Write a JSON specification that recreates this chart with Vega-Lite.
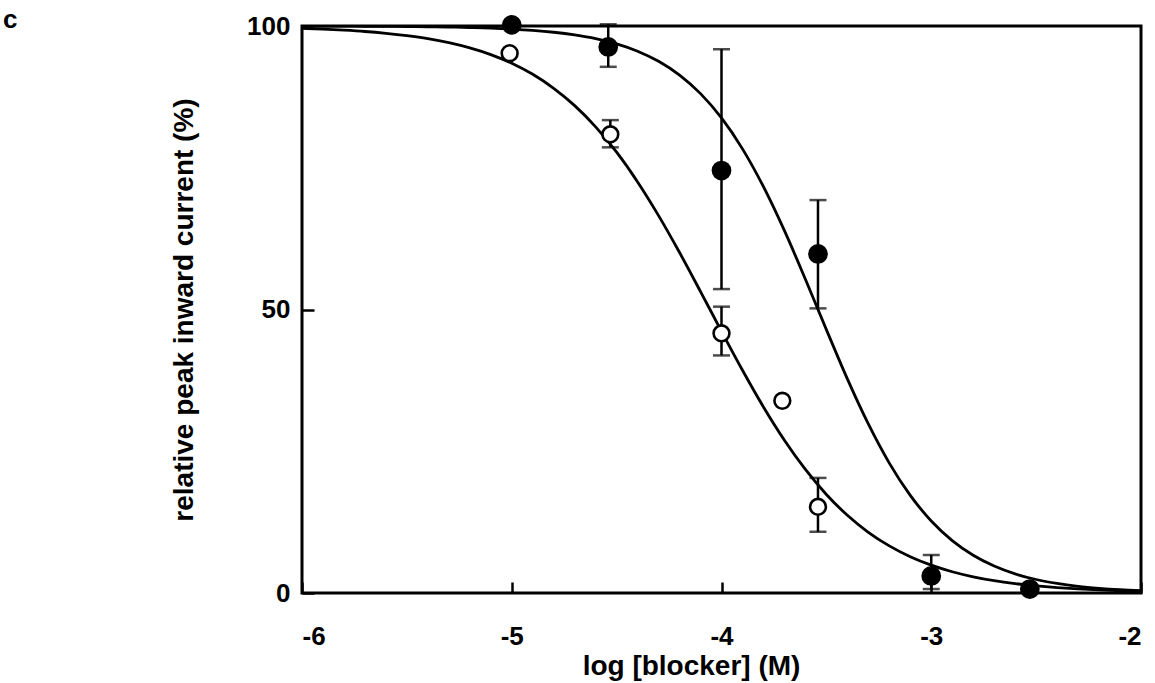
{
  "$schema": "https://vega.github.io/schema/vega-lite/v6.json",
  "width": 839,
  "height": 567,
  "autosize": {"type": "none"},
  "padding": {"left": 302, "top": 26, "right": 14, "bottom": 90},
  "background": "white",
  "title": {"text": "c", "anchor": "start", "frame": "group", "fontSize": 26, "fontWeight": "bold", "font": "Liberation Sans", "color": "black", "dx": -299, "dy": 20, "offset": 0},
  "config": {
    "view": {"stroke": "black", "strokeWidth": 3},
    "axis": {"labelFont": "Liberation Sans", "titleFont": "Liberation Sans", "labelColor": "black", "titleColor": "black", "labelFontWeight": "bold", "titleFontWeight": "bold", "grid": false, "domain": false, "tickColor": "black", "tickWidth": 2.5}
  },
  "datasets": {
    "curves": [
      {"x": -6.0, "y": 99.98, "s": "closed"}, {"x": -5.9, "y": 99.98, "s": "closed"}, {"x": -5.8, "y": 99.97, "s": "closed"}, {"x": -5.7, "y": 99.96, "s": "closed"}, {"x": -5.6, "y": 99.94, "s": "closed"}, {"x": -5.5, "y": 99.91, "s": "closed"}, {"x": -5.4, "y": 99.87, "s": "closed"}, {"x": -5.3, "y": 99.81, "s": "closed"}, {"x": -5.2, "y": 99.73, "s": "closed"}, {"x": -5.1, "y": 99.62, "s": "closed"}, {"x": -5.0, "y": 99.46, "s": "closed"}, {"x": -4.9, "y": 99.23, "s": "closed"}, {"x": -4.8, "y": 98.9, "s": "closed"}, {"x": -4.7, "y": 98.43, "s": "closed"}, {"x": -4.6, "y": 97.78, "s": "closed"}, {"x": -4.5, "y": 96.85, "s": "closed"}, {"x": -4.4, "y": 95.56, "s": "closed"}, {"x": -4.3, "y": 93.77, "s": "closed"}, {"x": -4.2, "y": 91.34, "s": "closed"}, {"x": -4.1, "y": 88.07, "s": "closed"}, {"x": -4.0, "y": 83.78, "s": "closed"}, {"x": -3.9, "y": 78.33, "s": "closed"}, {"x": -3.8, "y": 71.66, "s": "closed"}, {"x": -3.7, "y": 63.9, "s": "closed"}, {"x": -3.6, "y": 55.34, "s": "closed"}, {"x": -3.5, "y": 46.45, "s": "closed"}, {"x": -3.4, "y": 37.76, "s": "closed"}, {"x": -3.3, "y": 29.81, "s": "closed"}, {"x": -3.2, "y": 22.91, "s": "closed"}, {"x": -3.1, "y": 17.22, "s": "closed"}, {"x": -3.0, "y": 12.7, "s": "closed"}, {"x": -2.9, "y": 9.24, "s": "closed"}, {"x": -2.8, "y": 6.65, "s": "closed"}, {"x": -2.7, "y": 4.75, "s": "closed"}, {"x": -2.6, "y": 3.37, "s": "closed"}, {"x": -2.5, "y": 2.38, "s": "closed"}, {"x": -2.4, "y": 1.68, "s": "closed"}, {"x": -2.3, "y": 1.18, "s": "closed"}, {"x": -2.2, "y": 0.83, "s": "closed"}, {"x": -2.1, "y": 0.58, "s": "closed"}, {"x": -2.0, "y": 0.41, "s": "closed"},
      {"x": -6.0, "y": 99.58, "s": "open"}, {"x": -5.9, "y": 99.44, "s": "open"}, {"x": -5.8, "y": 99.26, "s": "open"}, {"x": -5.7, "y": 99.03, "s": "open"}, {"x": -5.6, "y": 98.71, "s": "open"}, {"x": -5.5, "y": 98.3, "s": "open"}, {"x": -5.4, "y": 97.77, "s": "open"}, {"x": -5.3, "y": 97.06, "s": "open"}, {"x": -5.2, "y": 96.14, "s": "open"}, {"x": -5.1, "y": 94.96, "s": "open"}, {"x": -5.0, "y": 93.43, "s": "open"}, {"x": -4.9, "y": 91.48, "s": "open"}, {"x": -4.8, "y": 89.02, "s": "open"}, {"x": -4.7, "y": 85.96, "s": "open"}, {"x": -4.6, "y": 82.22, "s": "open"}, {"x": -4.5, "y": 77.74, "s": "open"}, {"x": -4.4, "y": 72.5, "s": "open"}, {"x": -4.3, "y": 66.56, "s": "open"}, {"x": -4.2, "y": 60.05, "s": "open"}, {"x": -4.1, "y": 53.16, "s": "open"}, {"x": -4.0, "y": 46.15, "s": "open"}, {"x": -3.9, "y": 39.29, "s": "open"}, {"x": -3.8, "y": 32.82, "s": "open"}, {"x": -3.7, "y": 26.95, "s": "open"}, {"x": -3.6, "y": 21.79, "s": "open"}, {"x": -3.5, "y": 17.38, "s": "open"}, {"x": -3.4, "y": 13.71, "s": "open"}, {"x": -3.3, "y": 10.71, "s": "open"}, {"x": -3.2, "y": 8.31, "s": "open"}, {"x": -3.1, "y": 6.4, "s": "open"}, {"x": -3.0, "y": 4.91, "s": "open"}, {"x": -2.9, "y": 3.75, "s": "open"}, {"x": -2.8, "y": 2.86, "s": "open"}, {"x": -2.7, "y": 2.17, "s": "open"}, {"x": -2.6, "y": 1.65, "s": "open"}, {"x": -2.5, "y": 1.25, "s": "open"}, {"x": -2.4, "y": 0.95, "s": "open"}, {"x": -2.3, "y": 0.72, "s": "open"}, {"x": -2.2, "y": 0.54, "s": "open"}, {"x": -2.1, "y": 0.41, "s": "open"}, {"x": -2.0, "y": 0.31, "s": "open"}
    ],
    "points": [
      {"x": -5.0, "y": 100.2, "s": "closed"},
      {"x": -4.54, "y": 96.3, "lo": 92.8, "hi": 100.3, "s": "closed"},
      {"x": -4.0, "y": 74.5, "lo": 53.6, "hi": 95.9, "s": "closed"},
      {"x": -3.54, "y": 59.8, "lo": 50.2, "hi": 69.3, "s": "closed"},
      {"x": -3.0, "y": 3.0, "lo": 0.7, "hi": 6.7, "s": "closed"},
      {"x": -2.53, "y": 0.7, "s": "closed"},
      {"x": -5.01, "y": 95.2, "s": "open"},
      {"x": -4.53, "y": 80.9, "lo": 78.6, "hi": 83.4, "s": "open"},
      {"x": -4.0, "y": 45.8, "lo": 41.9, "hi": 50.5, "s": "open"},
      {"x": -3.71, "y": 33.9, "s": "open"},
      {"x": -3.54, "y": 15.2, "lo": 10.8, "hi": 20.3, "s": "open"}
    ]
  },
  "encoding": {
    "x": {"field": "x", "type": "quantitative", "scale": {"domain": [-6, -2], "nice": false, "zero": false},
      "axis": {"values": [-6, -5, -4, -3, -2], "title": "log [blocker] (M)", "tickSize": -11, "labelFontSize": 26, "titleFontSize": 28, "labelPadding": 41, "titlePadding": 3, "titleX": 389, "labelExpr": "'' + datum.value"}},
    "y": {"field": "y", "type": "quantitative", "scale": {"domain": [0, 100], "nice": false},
      "axis": {"values": [0, 50, 100], "title": "relative peak inward current (%)", "tickSize": -12, "labelFontSize": 26, "titleFontSize": 28, "labelPadding": 24, "titlePadding": 48}}
  },
  "layer": [
    {"data": {"name": "curves"}, "mark": {"type": "line", "color": "black", "strokeWidth": 2.8, "interpolate": "monotone", "clip": true}, "encoding": {"detail": {"field": "s"}}},
    {"data": {"name": "points"}, "transform": [{"filter": "isValid(datum.lo)"}], "mark": {"type": "rule", "color": "black", "strokeWidth": 2.5}, "encoding": {"y": {"field": "lo", "type": "quantitative"}, "y2": {"field": "hi"}}},
    {"data": {"name": "points"}, "transform": [{"filter": "isValid(datum.lo)"}], "mark": {"type": "tick", "orient": "horizontal", "color": "black", "thickness": 2.5, "size": 17}, "encoding": {"y": {"field": "lo", "type": "quantitative"}}},
    {"data": {"name": "points"}, "transform": [{"filter": "isValid(datum.hi)"}], "mark": {"type": "tick", "orient": "horizontal", "color": "black", "thickness": 2.5, "size": 17}, "encoding": {"y": {"field": "hi", "type": "quantitative"}}},
    {"data": {"name": "points"}, "transform": [{"filter": "datum.s === 'closed'"}], "mark": {"type": "point", "shape": "circle", "filled": true, "color": "black", "opacity": 1, "size": 390}},
    {"data": {"name": "points"}, "transform": [{"filter": "datum.s === 'open'"}], "mark": {"type": "point", "shape": "circle", "filled": false, "fill": "white", "fillOpacity": 1, "stroke": "black", "strokeWidth": 2.6, "opacity": 1, "size": 250}}
  ]
}
